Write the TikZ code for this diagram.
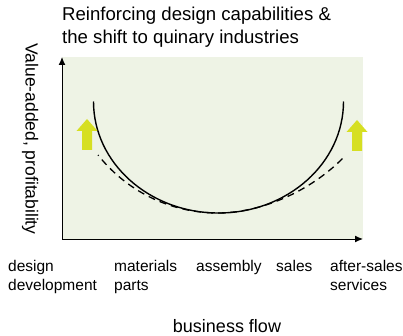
\documentclass[tikz,border=0pt]{standalone}
\usepackage{fontspec}
\setmainfont{Liberation Sans}
\usetikzlibrary{arrows.meta}

\definecolor{panelgreen}{HTML}{EEF3E5}
\definecolor{boostyellow}{HTML}{D6DF22}

\begin{document}
\begin{tikzpicture}[x=1pt, y=-1pt,
    lbl/.style={anchor=base west, inner sep=0pt, align=left, font=\fontsize{15.5}{19.6}\selectfont},
    axis/.style={line width=1pt, -{Latex[length=8pt,width=7pt]}},
    upmark/.pic={\fill[boostyellow] (-5,0) -- (-5,-19) -- (-10.5,-19) -- (0,-31) -- (10.5,-19) -- (5,-19) -- (5,0) -- cycle;}]
  \useasboundingbox (0,0) rectangle (403,336);

  % title
  \node[anchor=base west, inner sep=0pt, font=\fontsize{18.6}{23}\selectfont] (title1) at (62,20.7) {Reinforcing design capabilities \&};
  \node[anchor=base west, inner sep=0pt, font=\fontsize{18.6}{23}\selectfont] (title2) at (62,44) {the shift to quinary industries};

  % plot area and axes
  \fill[panelgreen] (62,57) rectangle (363,239);
  \coordinate (origin) at (62,239);
  \coordinate (ytop) at (62,57);
  \coordinate (xend) at (363,239);
  \draw[axis] (origin) -- (ytop);
  \draw[axis] (origin) -- (xend);
  \node[anchor=base, inner sep=0pt, rotate=-90, font=\fontsize{17.5}{20}\selectfont] (ylabel) at (25.5,139) {Value-added, profitability};

  % smile curves
  \draw[line width=1.4pt] (93.5,101.5) arc[start angle=180, end angle=0, x radius=125, y radius=111.5];
  \draw[line width=1.3pt, dash pattern=on 7pt off 5pt, dash phase=6pt] (98,155) .. controls (130,195) and (175,213) .. (218,213)
    .. controls (260,213) and (310,192) .. (344,157);

  % upward shift
  \pic at (87,150) {upmark};
  \pic at (357,151) {upmark};

  % stages along the flow (base = last line)
  \node[lbl] (design) at (8,290.7) {design\\development};
  \node[lbl] (materials) at (114,290.7) {materials\\parts};
  \node[lbl] (assembly) at (196,271) {assembly};
  \node[lbl] (sales) at (276,271) {sales};
  \node[lbl] (aftersales) at (330,290.7) {after-sales\\services};
  \node[anchor=base, inner sep=0pt, font=\fontsize{18}{22}\selectfont] (flow) at (227,332.7) {business flow};
\end{tikzpicture}
\end{document}
